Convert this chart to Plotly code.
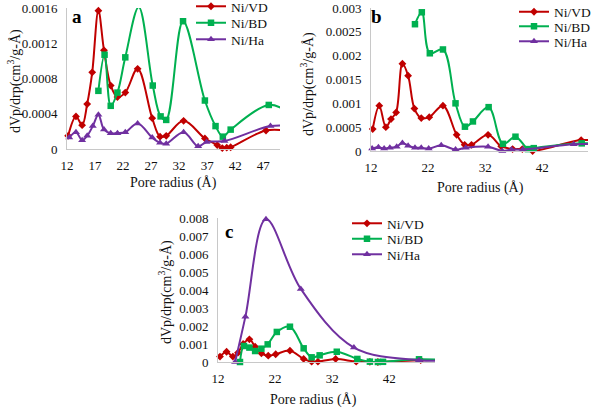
import plotly.graph_objects as go

# ---------------- data ----------------
# panel a
a_vd_x = [12.2, 13.6, 14.7, 15.6, 16.5, 17.6, 18.6, 19.8, 21.0, 22.4, 24.6, 27.2, 28.6, 29.7, 32.8, 36.6, 38.8, 39.7, 40.5, 41.2, 47.5, 52]
a_vd_y = [0.00015, 0.00037, 0.00027, 0.00051, 0.00087, 0.00157, 0.00112, 0.00072, 0.00059, 0.00064, 0.00091, 0.00035, 0.00014, 0.00015, 0.00032, 0.00012, 0.000045, 0.00001, 0.000015, 0.00002, 0.00021, 0.0002]
a_bd_x = [17.6, 18.7, 19.8, 21.0, 22.4, 24.8, 27.3, 28.7, 29.7, 32.7, 36.6, 38.5, 39.8, 41.2, 48.0, 52]
a_bd_y = [0.00066, 0.00107, 0.00049, 0.00064, 0.00104, 0.00161, 0.00072, 0.00037, 0.00033, 0.00145, 0.00055, 0.00026, 0.00014, 0.00022, 0.0005, 0.0004]
a_ha_x = [12.4, 13.6, 14.7, 15.6, 16.6, 17.6, 18.6, 19.8, 21.0, 22.4, 24.6, 27.2, 28.6, 29.7, 32.8, 35.4, 36.9, 40.1, 48.3, 52]
a_ha_y = [0.00013, 0.00019, 0.0001, 0.00015, 0.00026, 0.00039, 0.00022, 0.00018, 0.00018, 0.00019, 0.00029, 0.00013, 0.00007, 0.00006, 0.00019, 0.00003, 0.00008, 0.00009, 0.00026, 0.00026]

# panel b
b_vd_x = [12.3, 13.45, 14.6, 15.5, 16.4, 17.5, 18.5, 19.6, 20.8, 22.2, 24.6, 27.0, 28.4, 29.6, 32.5, 34.8, 36.8, 38.5, 40.3, 48.8, 52]
b_vd_y = [0.00046, 0.00095, 0.0005, 0.00067, 0.00081, 0.00183, 0.00158, 0.00089, 0.00069, 0.00071, 0.00095, 0.00034, 0.00013, 0.00013, 0.00034, 0.0001, 0.00004, 0.00004, 0.0, 0.00023, 0.0002]
b_bd_x = [19.7, 20.9, 22.3, 24.6, 26.8, 28.45, 29.85, 32.6, 35.1, 37.3, 39.5, 40.5, 48.9, 52]
b_bd_y = [0.00266, 0.00291, 0.00205, 0.00213, 0.001, 0.00051, 0.00062, 0.00092, 0.00015, 0.0003, 0.00004, 0.00006, 0.00016, 0.00015]
b_ha_x = [12.2, 13.3, 14.3, 15.3, 16.5, 17.5, 18.5, 19.7, 20.8, 22.1, 24.3, 26.8, 28.6, 32.5, 35.0, 36.6, 38.6, 47.5, 52]
b_ha_y = [0.00005, 0.00008, 0.00005, 0.00007, 0.00009, 0.00017, 0.00011, 0.00007, 0.00007, 0.00005, 0.00012, 0.00003, 0.00007, 0.00009, 0.0, 0.00003, 0.00003, 0.00014, 0.00014]

# panel c
c_vd_x = [12.35, 13.5, 14.6, 15.5, 16.4, 17.5, 18.5, 19.6, 20.8, 22.1, 24.6, 27.0, 28.4, 29.5, 32.6, 36.2, 38.6, 40.0, 47.5, 52]
c_vd_y = [0.0003, 0.00057, 0.0003, 0.00052, 0.001, 0.00126, 0.00085, 0.00048, 0.00035, 0.00043, 0.00063, 0.00017, 0.00002, 0.00002, 0.00017, 0.00002, 0.00001, 0.0, 0.0001, 0.0001]
c_bd_x = [15.85, 16.55, 17.5, 18.5, 19.6, 20.7, 22.3, 24.6, 27.0, 28.4, 29.8, 32.8, 36.4, 38.6, 40.0, 40.9, 47.2, 52]
c_bd_y = [0.0, 0.00089, 0.0008, 0.00061, 0.00074, 0.00098, 0.00167, 0.00196, 0.00076, 0.00026, 0.00037, 0.00057, 0.00017, 0.00002, 0.0, 0.00001, 0.00015, 0.0001]
c_ha_x = [15.0, 16.8, 20.4, 26.5, 35.8, 47.2, 52]
c_ha_y = [0.0, 0.00252, 0.00793, 0.00406, 0.0008, 0.0001, 0.00008]

series_names = ["Ni/VD", "Ni/BD", "Ni/Ha"]

# tick labels
a_xticks = [12, 17, 22, 27, 32, 37, 42, 47]
bc_xticks = [12, 22, 32, 42]
a_yticks = [0, 0.0004, 0.0008, 0.0012, 0.0016]
a_ytext = ["0", "0.0004", "0.0008", "0.0012", "0.0016"]
b_yticks = [0, 0.0005, 0.001, 0.0015, 0.002, 0.0025, 0.003]
b_ytext = ["0", "0.0005", "0.001", "0.0015", "0.002", "0.0025", "0.003"]
c_yticks = [0, 0.001, 0.002, 0.003, 0.004, 0.005, 0.006, 0.007, 0.008]
c_ytext = ["0", "0.001", "0.002", "0.003", "0.004", "0.005", "0.006", "0.007", "0.008"]

X_MAX = 50

# ---------------- styling ----------------
FONT = "Times New Roman, Liberation Serif, DejaVu Serif, serif"
COLORS = ["#C00000", "#00B050", "#7030A0"]
SYMBOLS = ["diamond", "square", "triangle-up"]
SIZES = [6, 6.5, 7]
W, H = 591, 408

def px_x(p):
    return p / W

def px_y(p):
    return 1 - p / H

fig = go.Figure()

def add_series(x, y, idx, xa, ya, legend):
    color = COLORS[idx]
    # smoothed line (clipped to plot area)
    fig.add_trace(go.Scatter(x=x, y=y, mode="lines", line=dict(color=color, width=2, shape="spline", smoothing=1),
                             xaxis=xa, yaxis=ya, showlegend=False, hoverinfo="skip"))
    xin = [v for v in x if v <= X_MAX]
    yin = [y[i] for i, v in enumerate(x) if v <= X_MAX]
    fig.add_trace(go.Scatter(x=xin, y=yin, mode="markers", cliponaxis=False,
                             marker=dict(color=color, symbol=SYMBOLS[idx], size=SIZES[idx]),
                             xaxis=xa, yaxis=ya, showlegend=False))
    # legend entry
    fig.add_trace(go.Scatter(x=[None], y=[None], mode="lines+markers", name=series_names[idx],
                             line=dict(color=color, width=2),
                             marker=dict(color=color, symbol=SYMBOLS[idx], size=SIZES[idx]),
                             xaxis=xa, yaxis=ya, legend=legend))

add_series(a_vd_x, a_vd_y, 0, "x", "y", "legend")
add_series(a_bd_x, a_bd_y, 1, "x", "y", "legend2")
add_series(a_ha_x, a_ha_y, 2, "x", "y", "legend3")
add_series(b_vd_x, b_vd_y, 0, "x2", "y2", "legend4")
add_series(b_bd_x, b_bd_y, 1, "x2", "y2", "legend5")
add_series(b_ha_x, b_ha_y, 2, "x2", "y2", "legend6")
add_series(c_vd_x, c_vd_y, 0, "x3", "y3", "legend7")
add_series(c_bd_x, c_bd_y, 1, "x3", "y3", "legend8")
add_series(c_ha_x, c_ha_y, 2, "x3", "y3", "legend9")

tickfont = dict(family=FONT, size=13, color="#111")
axis_line = "#C8C8C8"

def xaxis(dom, anchor, ticks):
    return dict(domain=dom, anchor=anchor, range=[12, X_MAX], tickvals=ticks, ticktext=[str(t) for t in ticks],
                showgrid=False, zeroline=False, showline=True, linecolor=axis_line, linewidth=1,
                ticks="", ticklabelstandoff=4, tickfont=tickfont)

def yaxis(dom, anchor, ymax, vals, text):
    return dict(domain=dom, anchor=anchor, range=[0, ymax], tickvals=vals, ticktext=text,
                showgrid=False, zeroline=False, showline=True, linecolor=axis_line, linewidth=1,
                ticks="", ticklabelstandoff=6, tickfont=tickfont)

legend_common = dict(font=dict(family=FONT, size=13.5, color="#111"), bgcolor="rgba(0,0,0,0)",
                     xanchor="left", yanchor="top")
LEG_OFF = 16  # legend top -> item centre

def leg(left, row_center):
    return dict(x=px_x(left), y=px_y(row_center - LEG_OFF), **legend_common)

fig.update_layout(
    width=W, height=H, margin=dict(l=0, r=0, t=0, b=0, autoexpand=False),
    plot_bgcolor="white", paper_bgcolor="white",
    xaxis=xaxis([px_x(67), px_x(280)], "y", a_xticks),
    yaxis=yaxis([px_y(149), px_y(8)], "x", 0.0016, a_yticks, a_ytext),
    xaxis2=xaxis([px_x(371), px_x(588)], "y2", bc_xticks),
    yaxis2=yaxis([px_y(151), px_y(8)], "x2", 0.003, b_yticks, b_ytext),
    xaxis3=xaxis([px_x(218), px_x(435)], "y3", bc_xticks),
    yaxis3=yaxis([px_y(362), px_y(218)], "x3", 0.008, c_yticks, c_ytext),
    legend=leg(191, 7), legend2=leg(191, 23.5), legend3=leg(191, 40),
    legend4=leg(514, 12.5), legend5=leg(514, 27), legend6=leg(514, 42),
    legend7=leg(347, 224), legend8=leg(347, 239.5), legend9=leg(347, 255),
    showlegend=True,
)

ann_font = dict(family=FONT, size=14, color="#111")
ytitle = "dVp/drp(cm<sup>3</sup>/g-Å)"
xtitle = "Pore radius (Å)"
annotations = [
    dict(text=xtitle, x=px_x(173.5), y=px_y(183), font=ann_font),
    dict(text=xtitle, x=px_x(480), y=px_y(188), font=ann_font),
    dict(text=xtitle, x=px_x(313), y=px_y(400), font=ann_font),
    dict(text=ytitle, x=px_x(15), y=px_y(81), font=ann_font, textangle=-90),
    dict(text=ytitle, x=px_x(308), y=px_y(84), font=ann_font, textangle=-90),
    dict(text=ytitle, x=px_x(165), y=px_y(292), font=ann_font, textangle=-90),
    dict(text="<b>a</b>", x=px_x(77), y=px_y(17), font=dict(family=FONT, size=19, color="#000")),
    dict(text="<b>b</b>", x=px_x(377), y=px_y(17), font=dict(family=FONT, size=19, color="#000")),
    dict(text="<b>c</b>", x=px_x(229), y=px_y(231), font=dict(family=FONT, size=19, color="#000")),
]
for a in annotations:
    a.update(xref="paper", yref="paper", showarrow=False, xanchor="center", yanchor="middle")
fig.update_layout(annotations=annotations)

# remove the browser's default page margin so the figure sits at the window origin
fig.write_html("out.html", config={"displayModeBar": False},
               post_script="document.body.style.margin='0';document.body.style.overflow='hidden';")
